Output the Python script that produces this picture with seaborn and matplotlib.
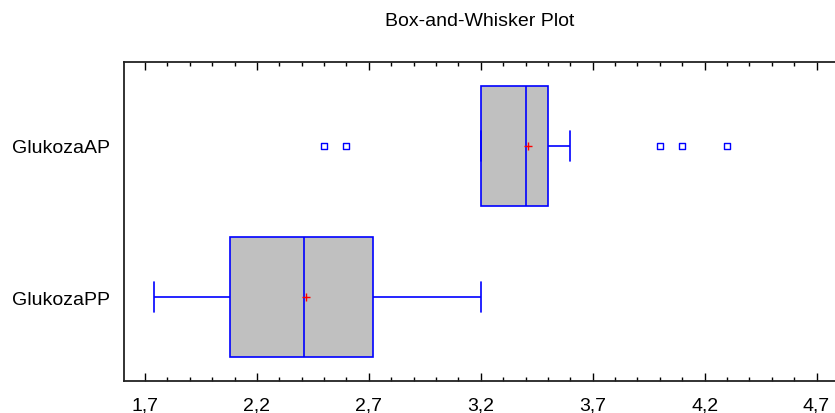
import matplotlib
matplotlib.use("Agg")
import matplotlib.pyplot as plt
import seaborn as sns
import pandas as pd
from matplotlib.ticker import FixedLocator, MultipleLocator, FuncFormatter

# ---- data ----
categories = ["GlukozaAP", "GlukozaPP"]
whisker_low = [3.2, 1.74]
q1 = [3.2, 2.08]
median = [3.4, 2.41]
q3 = [3.5, 2.72]
whisker_high = [3.6, 3.2]
means = [3.41, 2.42]
outlier_cat = ["GlukozaAP", "GlukozaAP", "GlukozaAP", "GlukozaAP", "GlukozaAP"]
outlier_val = [2.5, 2.6, 4.0, 4.1, 4.3]
x_ticks = [1.7, 2.2, 2.7, 3.2, 3.7, 4.2, 4.7]
title = "Box-and-Whisker Plot"

# five-number summaries as long-form table
rows = []
for c, a, b, m, d, e in zip(categories, whisker_low, q1, median, q3, whisker_high):
    for v in (a, b, m, d, e):
        rows.append({"cat": c, "value": v})
df = pd.DataFrame(rows)

sns.set_theme(style="white")
plt.rcParams["font.family"] = ["Liberation Sans", "DejaVu Sans"]

fig = plt.figure(figsize=(8.35, 4.14), dpi=100)
ax = fig.add_axes([124 / 835, 1 - 382 / 414, 1 - 124 / 835 + 0.002, (382 - 63) / 414])

blue = "#0000FF"
sns.boxplot(data=df, x="value", y="cat", order=categories, whis=(0, 100),
            width=0.8, color="#C0C0C0", saturation=1, linecolor=blue,
            linewidth=1.2, showfliers=False, capwidths=0.2, ax=ax)

sns.scatterplot(x=outlier_val, y=outlier_cat, marker="s", s=14,
                facecolor="white", edgecolor=blue, linewidth=1.0, ax=ax, zorder=5)
sns.scatterplot(x=means, y=categories, marker="+", s=30, color="red",
                linewidth=1.0, ax=ax, zorder=6)

ax.set_xlim(1.606, 4.79)
ax.set_ylim(1.556, -0.556)
ax.set_xlabel("")
ax.set_ylabel("")

fs = 14
ax.xaxis.set_major_locator(FixedLocator(x_ticks))
ax.xaxis.set_minor_locator(MultipleLocator(0.1))
ax.xaxis.set_major_formatter(FuncFormatter(lambda v, p: f"{v:.1f}".replace(".", ",")))
ax.tick_params(axis="x", which="both", direction="in", top=True, bottom=True,
               colors="black", labelsize=fs, pad=11)
ax.tick_params(axis="x", which="major", length=6, width=1.0)
ax.tick_params(axis="x", which="minor", length=3, width=1.0)
ax.tick_params(axis="y", length=0, labelsize=fs, pad=10, colors="black")

for s in ["left", "top", "bottom"]:
    ax.spines[s].set_color("#222222")
    ax.spines[s].set_linewidth(1.3)
ax.spines["right"].set_visible(False)

fig.text(479.5 / 835, 1 - 22 / 414, title, ha="center", va="center",
         fontsize=fs, color="black")

fig.savefig("out.png", dpi=100)
